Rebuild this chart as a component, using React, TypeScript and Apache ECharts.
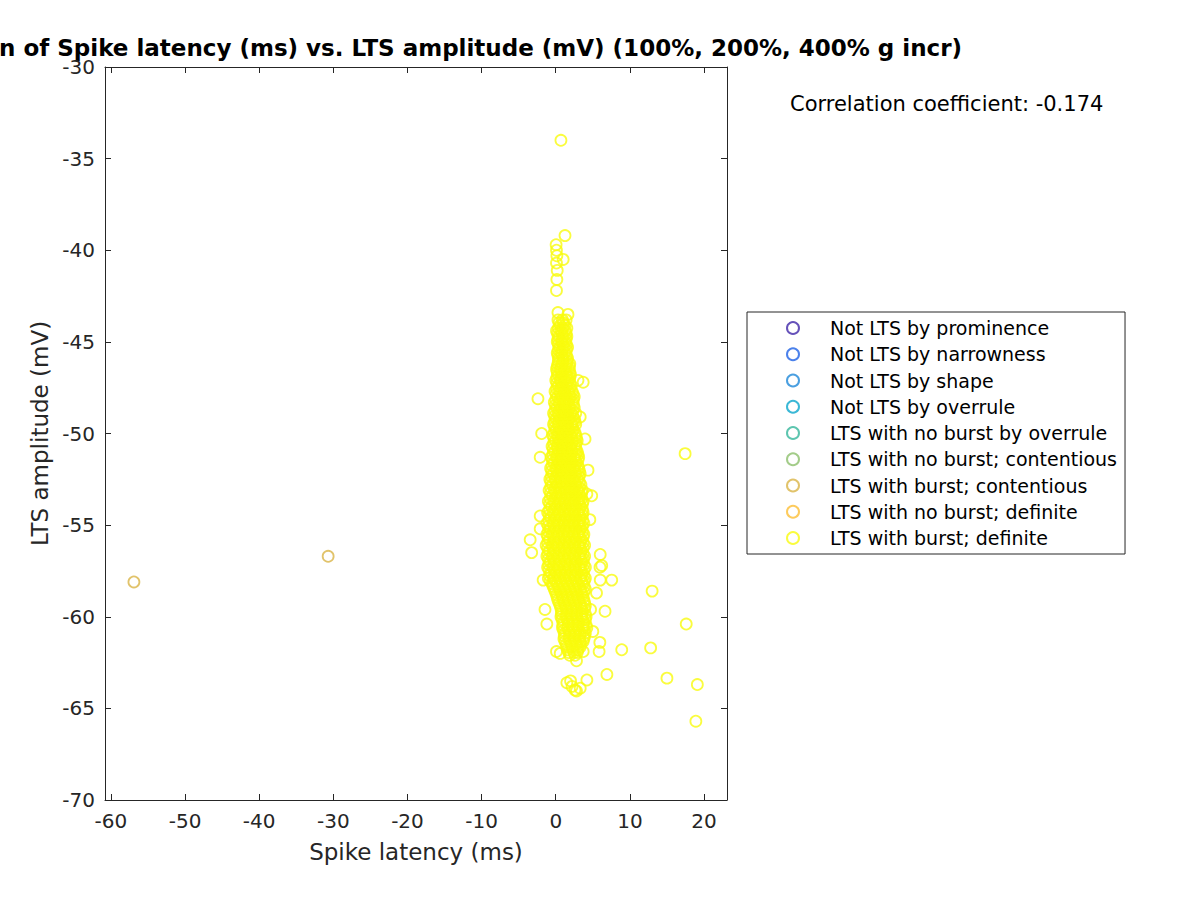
import React, { useEffect, useRef } from "react";
import * as echarts from "echarts";

const FONT = "DejaVu Sans";
const TEXT = "#262626";

const titleText =
  "Correlation of Spike latency (ms) vs. LTS amplitude (mV) (100%, 200%, 400% g incr)";
const xAxisName = "Spike latency (ms)";
const yAxisName = "LTS amplitude (mV)";
const correlationText = "Correlation coefficient: -0.174";

const xTicks = [-60, -50, -40, -30, -20, -10, 0, 10, 20];
const xMin = -60.8;
const xMax = 23.1;
const yMin = -70;
const yMax = -30;
const yStep = 5;

const categoryNames = [
  "Not LTS by prominence",
  "Not LTS by narrowness",
  "Not LTS by shape",
  "Not LTS by overrule",
  "LTS with no burst by overrule",
  "LTS with no burst; contentious",
  "LTS with burst; contentious",
  "LTS with no burst; definite",
  "LTS with burst; definite",
];
const categoryColors = [
  "#3e26a8",
  "#1e62e6",
  "#1d87d8",
  "#0aa6cc",
  "#35b79b",
  "#8cbf6b",
  "#d9b446",
  "#fdbe34",
  "#f9fb0e",
];

// [spike latency (ms), LTS amplitude (mV)]
const burstContentious: [number, number][] = [
  [-56.9, -58.1],
  [-30.7, -56.7],
];

const burstDefiniteOutliers: [number, number][] = [
  [0.7, -34.0], [1.25, -39.2], [0.05, -39.7], [0.1, -40.0], [0.15, -40.3],
  [1.0, -40.5], [0.1, -40.7], [0.2, -41.1], [0.15, -41.6], [0.1, -42.2],
  [0.3, -43.4], [1.65, -43.5],
  [3.0, -47.1], [3.7, -47.2], [3.3, -49.1], [3.95, -50.3], [-1.9, -50.0], [-2.4, -48.1],
  [-2.1, -51.3], [4.35, -52.0], [4.2, -53.3], [-2.1, -54.5], [-2.1, -55.2],
  [-3.45, -55.8], [-3.25, -56.5], [6.0, -56.6], [6.2, -57.2], [4.6, -54.7],
  [4.85, -53.4], [-1.7, -58.0], [5.97, -57.3], [6.0, -58.0], [7.55, -58.0],
  [5.5, -58.7], [4.7, -59.6], [6.65, -59.7], [5.0, -60.8], [5.95, -61.4],
  [5.85, -61.9], [8.9, -61.8], [-1.45, -59.6], [-1.2, -60.4], [0.1, -61.9],
  [0.6, -62.0], [2.8, -62.4], [3.7, -61.9], [6.9, -63.15], [4.2, -63.45],
  [1.5, -63.6], [2.0, -63.5], [2.2, -63.8], [2.6, -64.0], [2.8, -64.05], [3.3, -63.9],
  [17.45, -51.1], [13.0, -58.6], [17.6, -60.4], [12.8, -61.7], [15.0, -63.35],
  [19.1, -63.7], [18.9, -65.7],
];

// dense core: [LTS amplitude (mV), spike latencies (ms) read along that level]
const burstDefiniteCoreRows: [number, number[]][] = [
  [-43.8, [0.3, 0.9, 1.4]],
  [-43.95, [0.45, 1.05]],
  [-44.1, [0.6, 1.2]],
  [-44.25, [0.35, 0.95, 1.5]],
  [-44.4, [0.1, 0.7, 1.3]],
  [-44.55, [0.25, 0.85, 1.4]],
  [-44.7, [0.4, 1.0, 1.5]],
  [-44.85, [0.3, 0.9, 1.4]],
  [-45.0, [0.2, 0.8, 1.3]],
  [-45.15, [0.35, 0.95, 1.45]],
  [-45.3, [0.5, 1.1, 1.6]],
  [-45.45, [0.35, 0.9, 1.45]],
  [-45.6, [0.2, 0.7, 1.3]],
  [-45.75, [0.3, 0.85, 1.45]],
  [-45.9, [0.4, 1.0, 1.6]],
  [-46.05, [0.35, 0.95, 1.55]],
  [-46.2, [0.3, 0.9, 1.5, 1.9]],
  [-46.35, [0.2, 0.75, 1.35, 1.85]],
  [-46.5, [0.1, 0.6, 1.2, 1.8]],
  [-46.65, [0.2, 0.75, 1.35, 1.9]],
  [-46.8, [0.3, 0.9, 1.5, 2.0]],
  [-46.95, [0.15, 0.75, 1.35, 1.9]],
  [-47.1, [0.0, 0.6, 1.2, 1.8]],
  [-47.25, [0.15, 0.75, 1.35, 1.95]],
  [-47.4, [0.3, 0.9, 1.5, 2.1]],
  [-47.55, [0.1, 0.7, 1.3, 1.9]],
  [-47.7, [-0.1, 0.5, 1.1, 1.7, 2.2]],
  [-47.85, [0.05, 0.65, 1.25, 1.85, 2.35]],
  [-48.0, [0.2, 0.8, 1.4, 2.0, 2.5]],
  [-48.15, [0.0, 0.6, 1.2, 1.8, 2.4]],
  [-48.3, [-0.2, 0.4, 1.0, 1.6, 2.3]],
  [-48.45, [-0.05, 0.55, 1.15, 1.75, 2.4]],
  [-48.6, [0.1, 0.7, 1.3, 1.9, 2.5]],
  [-48.75, [-0.1, 0.5, 1.1, 1.7, 2.3]],
  [-48.9, [-0.3, 0.3, 0.9, 1.5, 2.1, 2.7]],
  [-49.05, [-0.15, 0.45, 1.05, 1.65, 2.3]],
  [-49.2, [0.0, 0.6, 1.2, 1.8, 2.5]],
  [-49.35, [-0.15, 0.45, 1.05, 1.65, 2.3, 2.6]],
  [-49.5, [-0.3, 0.3, 0.9, 1.5, 2.1, 2.7]],
  [-49.65, [-0.15, 0.45, 1.05, 1.65, 2.25]],
  [-49.8, [0.0, 0.6, 1.2, 1.8, 2.4]],
  [-49.95, [-0.2, 0.4, 1.0, 1.6, 2.2, 2.6]],
  [-50.1, [-0.4, 0.2, 0.8, 1.4, 2.0, 2.7]],
  [-50.25, [-0.25, 0.35, 0.95, 1.55, 2.15, 2.8]],
  [-50.4, [-0.1, 0.5, 1.1, 1.7, 2.3, 2.9]],
  [-50.55, [-0.3, 0.35, 0.95, 1.55, 2.15, 2.75]],
  [-50.7, [-0.5, 0.2, 0.8, 1.4, 2.0, 2.6]],
  [-50.85, [-0.35, 0.3, 0.9, 1.5, 2.1, 2.75]],
  [-51.0, [-0.2, 0.4, 1.0, 1.6, 2.2, 2.9]],
  [-51.15, [-0.4, 0.25, 0.85, 1.45, 2.05, 2.7, 3.0]],
  [-51.3, [-0.6, 0.1, 0.7, 1.3, 1.9, 2.5, 3.1]],
  [-51.45, [-0.45, 0.25, 0.85, 1.45, 2.05, 2.65, 3.0]],
  [-51.6, [-0.3, 0.4, 1.0, 1.6, 2.2, 2.8]],
  [-51.75, [-0.5, 0.2, 0.8, 1.4, 2.0, 2.6, 3.0]],
  [-51.9, [-0.7, 0.0, 0.6, 1.2, 1.8, 2.4, 3.1]],
  [-52.05, [-0.55, 0.15, 0.75, 1.35, 1.95, 2.55, 3.2]],
  [-52.2, [-0.4, 0.3, 0.9, 1.5, 2.1, 2.7, 3.3]],
  [-52.35, [-0.6, 0.1, 0.75, 1.35, 1.95, 2.55, 3.15]],
  [-52.5, [-0.8, -0.1, 0.6, 1.2, 1.8, 2.4, 3.0]],
  [-52.65, [-0.65, 0.05, 0.75, 1.35, 1.95, 2.55, 3.2]],
  [-52.8, [-0.5, 0.2, 0.9, 1.5, 2.1, 2.7, 3.4]],
  [-52.95, [-0.7, 0.0, 0.7, 1.35, 1.95, 2.55, 3.2]],
  [-53.1, [-0.9, -0.2, 0.5, 1.2, 1.8, 2.4, 3.0, 3.6]],
  [-53.25, [-0.7, 0.0, 0.65, 1.35, 1.95, 2.55, 3.15, 3.5]],
  [-53.4, [-0.5, 0.2, 0.8, 1.5, 2.1, 2.7, 3.3]],
  [-53.55, [-0.75, -0.05, 0.6, 1.3, 1.95, 2.55, 3.15, 3.5]],
  [-53.7, [-1.0, -0.3, 0.4, 1.1, 1.8, 2.4, 3.0, 3.7]],
  [-53.85, [-0.8, -0.1, 0.6, 1.25, 1.95, 2.55, 3.2, 3.6]],
  [-54.0, [-0.6, 0.1, 0.8, 1.4, 2.1, 2.7, 3.4]],
  [-54.15, [-0.85, -0.15, 0.6, 1.25, 1.9, 2.55, 3.2, 3.6]],
  [-54.3, [-1.1, -0.4, 0.4, 1.1, 1.7, 2.4, 3.0, 3.7]],
  [-54.45, [-0.9, -0.2, 0.55, 1.25, 1.85, 2.55, 3.2, 3.6]],
  [-54.6, [-0.7, 0.0, 0.7, 1.4, 2.0, 2.7, 3.4]],
  [-54.75, [-0.95, -0.2, 0.5, 1.2, 1.85, 2.5, 3.2, 3.65]],
  [-54.9, [-1.2, -0.4, 0.3, 1.0, 1.7, 2.3, 3.0, 3.8]],
  [-55.05, [-1.0, -0.25, 0.45, 1.15, 1.85, 2.5, 3.2, 3.6]],
  [-55.2, [-0.8, -0.1, 0.6, 1.3, 2.0, 2.7, 3.4]],
  [-55.35, [-1.0, -0.3, 0.4, 1.1, 1.8, 2.5, 3.2, 3.6]],
  [-55.5, [-1.2, -0.5, 0.2, 0.9, 1.6, 2.3, 3.0, 3.8]],
  [-55.65, [-1.05, -0.3, 0.4, 1.1, 1.8, 2.5, 3.25, 3.7]],
  [-55.8, [-0.9, -0.1, 0.6, 1.3, 2.0, 2.7, 3.5]],
  [-55.95, [-1.1, -0.3, 0.4, 1.15, 1.85, 2.55, 3.3, 3.7]],
  [-56.1, [-1.3, -0.5, 0.2, 1.0, 1.7, 2.4, 3.1, 3.9]],
  [-56.25, [-1.1, -0.35, 0.4, 1.15, 1.85, 2.6, 3.3, 3.7]],
  [-56.4, [-0.9, -0.2, 0.6, 1.3, 2.0, 2.8, 3.5]],
  [-56.55, [-1.05, -0.35, 0.45, 1.15, 1.85, 2.6, 3.35, 3.7]],
  [-56.7, [-1.2, -0.5, 0.3, 1.0, 1.7, 2.4, 3.2, 3.9]],
  [-56.85, [-1.0, -0.3, 0.45, 1.2, 1.9, 2.6, 3.4, 3.75]],
  [-57.0, [-0.8, -0.1, 0.6, 1.4, 2.1, 2.8, 3.6]],
  [-57.15, [-0.95, -0.25, 0.45, 1.25, 1.95, 2.65, 3.4, 3.8]],
  [-57.3, [-1.1, -0.4, 0.3, 1.1, 1.8, 2.5, 3.2, 4.0]],
  [-57.45, [-0.9, -0.2, 0.5, 1.25, 1.95, 2.7, 3.4, 3.8]],
  [-57.6, [-0.7, 0.0, 0.7, 1.4, 2.1, 2.9, 3.6]],
  [-57.75, [-0.85, -0.15, 0.55, 1.25, 1.95, 2.7, 3.45, 3.8]],
  [-57.9, [-1.0, -0.3, 0.4, 1.1, 1.8, 2.5, 3.3, 4.0]],
  [-58.05, [-0.75, -0.05, 0.65, 1.35, 2.05, 2.75, 3.5, 3.85]],
  [-58.2, [-0.5, 0.2, 0.9, 1.6, 2.3, 3.0, 3.7]],
  [-58.35, [-0.35, 0.35, 1.05, 1.75, 2.45, 3.15, 3.85]],
  [-58.5, [-0.2, 0.5, 1.2, 1.9, 2.6, 3.3, 4.0]],
  [-58.65, [-0.05, 0.65, 1.35, 2.05, 2.75, 3.45, 3.8]],
  [-58.8, [0.1, 0.8, 1.5, 2.2, 2.9, 3.6]],
  [-58.95, [0.2, 0.9, 1.6, 2.3, 3.0, 3.7]],
  [-59.1, [0.3, 1.0, 1.7, 2.4, 3.1, 3.8]],
  [-59.25, [0.45, 1.15, 1.85, 2.55, 3.25, 3.9]],
  [-59.4, [0.6, 1.3, 2.0, 2.7, 3.4, 4.0]],
  [-59.55, [0.7, 1.4, 2.1, 2.8, 3.5, 3.9]],
  [-59.7, [0.8, 1.5, 2.2, 2.9, 3.6]],
  [-59.85, [0.75, 1.45, 2.15, 2.85, 3.55, 4.0]],
  [-60.0, [0.7, 1.4, 2.1, 2.8, 3.5, 4.1]],
  [-60.15, [0.85, 1.55, 2.25, 2.95, 3.65, 4.0]],
  [-60.3, [1.0, 1.7, 2.4, 3.1, 3.8]],
  [-60.45, [0.95, 1.65, 2.35, 3.05, 3.75, 4.1]],
  [-60.6, [0.9, 1.6, 2.3, 3.0, 3.7, 4.2]],
  [-60.75, [1.05, 1.75, 2.45, 3.15, 3.85]],
  [-60.9, [1.2, 1.9, 2.6, 3.3, 4.0]],
  [-61.05, [1.15, 1.85, 2.55, 3.25, 3.9]],
  [-61.2, [1.1, 1.8, 2.5, 3.2, 3.8]],
  [-61.35, [1.25, 1.95, 2.65, 3.3, 3.7]],
  [-61.5, [1.4, 2.1, 2.8, 3.4]],
  [-61.65, [1.5, 2.2, 2.9, 3.3]],
  [-61.8, [1.6, 2.3, 3.0]],
  [-61.95, [1.75, 2.45, 2.9]],
  [-62.1, [1.9, 2.6]],
];

const burstDefinite: [number, number][] = [
  ...burstDefiniteOutliers,
  ...burstDefiniteCoreRows.flatMap(([amp, lats]) =>
    lats.map((lat) => [lat, amp] as [number, number])
  ),
];

const seriesData: [number, number][][] = [
  [], [], [], [], [], [], burstContentious, [], burstDefinite,
];

export default function App() {
  const ref = useRef<HTMLDivElement>(null);

  useEffect(() => {
    if (!ref.current) return;
    const chart = echarts.init(ref.current, undefined, { renderer: "svg" });

    const tickStyle = { color: TEXT, width: 1 };
    const axisLine = { show: true, onZero: false, lineStyle: { color: TEXT, width: 1 } };

    const option: any = {
      animation: false,
      backgroundColor: "#ffffff",
      grid: { left: 105, right: 473, top: 67, bottom: 100, containLabel: false },
      xAxis: [
        {
          type: "value",
          min: xMin,
          max: xMax,
          position: "bottom",
          axisLine,
          axisTick: { show: true, inside: true, length: 6, customValues: xTicks, lineStyle: tickStyle },
          axisLabel: { customValues: xTicks, margin: 11, fontSize: 20, color: TEXT, fontFamily: FONT },
          splitLine: { show: false },
          name: xAxisName,
          nameLocation: "middle",
          nameGap: 40,
          nameTextStyle: { fontSize: 23, color: TEXT, fontFamily: FONT },
        },
        {
          type: "value",
          min: xMin,
          max: xMax,
          position: "top",
          axisLine,
          axisTick: { show: true, inside: true, length: 6, customValues: xTicks, lineStyle: tickStyle },
          axisLabel: { show: false },
          splitLine: { show: false },
        },
      ],
      yAxis: [
        {
          type: "value",
          min: yMin,
          max: yMax,
          interval: yStep,
          position: "left",
          axisLine,
          axisTick: { show: true, inside: true, length: 6, lineStyle: tickStyle },
          axisLabel: { margin: 10, fontSize: 20, color: TEXT, fontFamily: FONT },
          splitLine: { show: false },
          name: yAxisName,
          nameLocation: "middle",
          nameGap: 54,
          nameRotate: 90,
          nameTextStyle: { fontSize: 23, color: TEXT, fontFamily: FONT },
        },
        {
          type: "value",
          min: yMin,
          max: yMax,
          interval: yStep,
          position: "right",
          axisLine,
          axisTick: { show: true, inside: true, length: 6, lineStyle: tickStyle },
          axisLabel: { show: false },
          splitLine: { show: false },
        },
      ],
      legend: {
        orient: "vertical",
        left: 747,
        top: 312,
        padding: [6, 8, 6, 39],
        borderColor: TEXT,
        borderWidth: 1,
        backgroundColor: "#ffffff",
        itemWidth: 64,
        itemHeight: 12,
        itemGap: 6.25,
        symbolKeepAspect: true,
        selectedMode: false,
        align: "left",
        textStyle: { fontSize: 19, color: "#000000", fontFamily: FONT, lineHeight: 20 },
        data: categoryNames.map((name, i) => ({
          name,
          icon: "circle",
          itemStyle: { color: "rgba(0,0,0,0)", borderColor: categoryColors[i], borderWidth: 2 },
        })),
      },
      graphic: [
        {
          type: "text",
          x: 416,
          y: 48,
          style: {
            text: titleText,
            textAlign: "center",
            textVerticalAlign: "middle",
            fontSize: 23,
            fontWeight: "bold",
            fontFamily: FONT,
            fill: "#000000",
          },
        },
        {
          type: "text",
          x: 790,
          y: 104,
          style: {
            text: correlationText,
            textAlign: "left",
            textVerticalAlign: "middle",
            fontSize: 21,
            fontFamily: FONT,
            fill: "#000000",
          },
        },
      ],
      series: categoryNames.map((name, i) => ({
        type: "scatter",
        name,
        xAxisIndex: 0,
        yAxisIndex: 0,
        data: seriesData[i],
        symbol: "circle",
        symbolSize: 11,
        silent: true,
        itemStyle: { color: "rgba(0,0,0,0)", borderColor: categoryColors[i], borderWidth: 1.8 },
        emphasis: { disabled: true },
      })),
    };

    chart.setOption(option);
    return () => chart.dispose();
  }, []);

  return (
    <div
      ref={ref}
      style={{ position: "absolute", left: 0, top: 0, width: 1200, height: 900, background: "#fff" }}
    />
  );
}
